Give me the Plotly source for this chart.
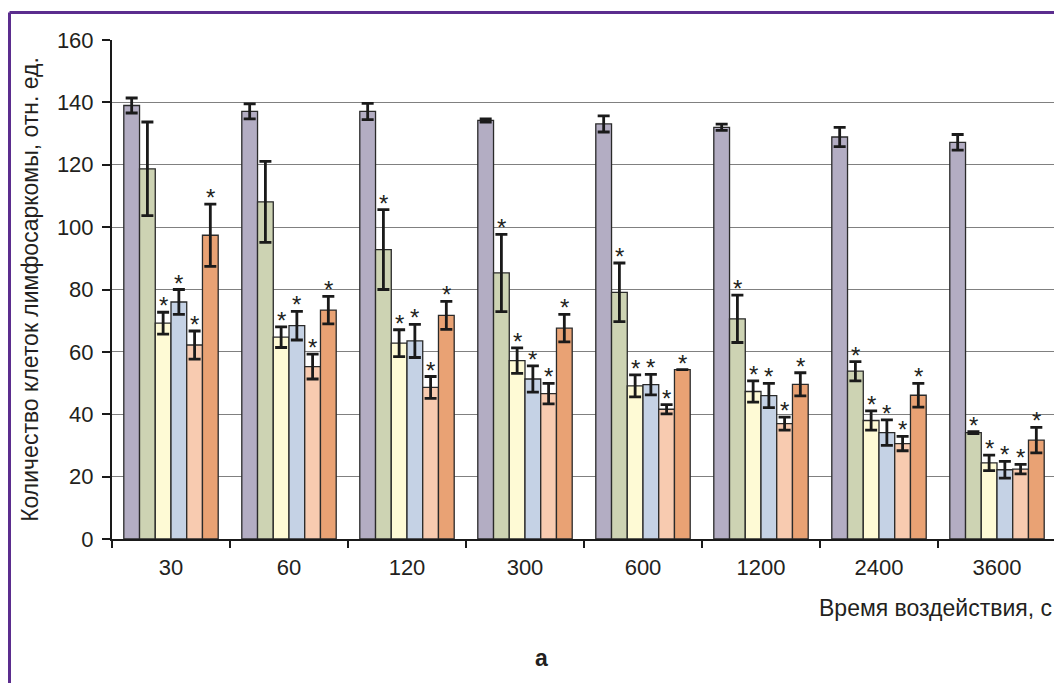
import plotly.graph_objects as go

categories = ["30", "60", "120", "300", "600", "1200", "2400", "3600"]

s1_vals = [139.0, 137.1, 137.1, 134.2, 133.1, 132.0, 128.9, 127.2]
s1_err = [2.4, 2.4, 2.6, 0.5, 2.6, 1.0, 3.1, 2.5]
s2_vals = [118.7, 108.1, 92.8, 85.3, 79.1, 70.6, 53.8, 34.1]
s2_err = [15.0, 13.0, 12.8, 12.4, 9.4, 7.6, 3.1, 0.3]
s3_vals = [69.2, 64.7, 62.8, 57.2, 49.1, 47.3, 38.0, 24.4]
s3_err = [3.5, 3.3, 4.3, 4.1, 3.5, 3.4, 3.1, 2.5]
s4_vals = [76.0, 68.4, 63.5, 51.3, 49.5, 46.0, 34.1, 22.2]
s4_err = [4.0, 4.6, 5.3, 4.2, 3.3, 3.9, 4.1, 2.7]
s5_vals = [62.2, 55.3, 48.6, 46.6, 41.6, 37.0, 30.6, 22.4]
s5_err = [4.5, 4.0, 3.5, 3.3, 1.5, 2.1, 2.3, 1.5]
s6_vals = [97.4, 73.4, 71.7, 67.6, 54.3, 49.6, 46.1, 31.7]
s6_err = [10.0, 4.4, 4.5, 4.4, None, 3.7, 3.8, 4.1]

# significance marks (1 = asterisk)
s1_sig = [0, 0, 0, 0, 0, 0, 0, 0]
s2_sig = [0, 0, 1, 1, 1, 1, 1, 1]
s3_sig = [1, 1, 1, 1, 1, 1, 1, 1]
s4_sig = [1, 1, 1, 1, 1, 1, 1, 1]
s5_sig = [1, 1, 1, 1, 1, 1, 1, 1]
s6_sig = [1, 1, 1, 1, 1, 1, 1, 1]

colors = ["#b3adc3", "#cdd3b3", "#fefad5", "#c5d2e5", "#f8cbb0", "#e9a274"]

series = [
    (s1_vals, s1_err, s1_sig),
    (s2_vals, s2_err, s2_sig),
    (s3_vals, s3_err, s3_sig),
    (s4_vals, s4_err, s4_sig),
    (s5_vals, s5_err, s5_sig),
    (s6_vals, s6_err, s6_sig),
]

FONT = "Liberation Sans, Arial, sans-serif"
TXT = "#231f20"

fig = go.Figure()
for i, (vals, errs, sig) in enumerate(series):
    fig.add_trace(go.Bar(
        x=categories, y=vals,
        marker=dict(color=colors[i], line=dict(color="#2a2a2a", width=1.3)),
        error_y=dict(type="data", array=errs, visible=True,
                     color="#1a1a1a", thickness=2.8, width=6),
        showlegend=False,
    ))

# page body adds an 8px offset; figure is sized to fill the rest of the window
W, H = 1054, 675
ml, mr, mt, mb = 104, 6, 32, 144
plot_w = W - ml - mr
plot_h = H - mt - mb
ncat = len(categories)
bargap = 0.2
bar_px = plot_w / ncat * (1 - bargap) / len(series)

annotations = []
for i, (vals, errs, sig) in enumerate(series):
    for j in range(ncat):
        if sig[j]:
            e = errs[j] if errs[j] is not None else 0
            annotations.append(dict(
                x=j, y=vals[j] + e, xref="x", yref="y",
                text="*", showarrow=False,
                xshift=(i - (len(series) - 1) / 2) * bar_px,
                yanchor="bottom", yshift=-9,
                font=dict(family=FONT, size=24, color=TXT),
            ))

annotations.append(dict(
    x=(1046 - ml) / plot_w, y=-69 / plot_h, xref="paper", yref="paper",
    xanchor="right", yanchor="middle",
    text="Время воздействия, с", showarrow=False,
    font=dict(family=FONT, size=23, color=TXT),
))
annotations.append(dict(
    x=(533 - ml) / plot_w, y=-119 / plot_h, xref="paper", yref="paper",
    xanchor="center", yanchor="middle",
    text="<b>а</b>", showarrow=False,
    font=dict(family=FONT, size=23, color=TXT),
))

top_y = 1 + (mt - 4.5) / plot_h
left_x = (1.5 - ml) / plot_w
shapes = [
    dict(type="line", xref="paper", yref="paper",
         x0=left_x, x1=left_x, y0=top_y, y1=-0.35,
         line=dict(color="#5b2d8e", width=3)),
    dict(type="line", xref="paper", yref="paper",
         x0=left_x, x1=1.05, y0=top_y, y1=top_y,
         line=dict(color="#5b2d8e", width=3)),
]

fig.update_layout(
    width=W, height=H,
    margin=dict(l=ml, r=mr, t=mt, b=mb, autoexpand=False),
    barmode="group", bargap=bargap, bargroupgap=0,
    plot_bgcolor="white", paper_bgcolor="white",
    font=dict(family=FONT, size=22, color=TXT),
    annotations=annotations, shapes=shapes,
    xaxis=dict(
        type="category", range=[-0.5, ncat - 0.5], automargin=False,
        showline=True, linecolor="#1a1a1a", linewidth=2,
        ticks="outside", tickson="boundaries", ticklen=7, tickwidth=2, tickcolor="#1a1a1a",
        showgrid=False, ticklabelstandoff=8, tickangle=0,
        tickfont=dict(family=FONT, size=22, color=TXT),
    ),
    yaxis=dict(
        range=[0, 160], dtick=20, automargin=False,
        showline=True, linecolor="#1a1a1a", linewidth=2,
        ticks="outside", ticklen=8, tickwidth=2, tickcolor="#1a1a1a",
        showgrid=True, gridcolor="#808080", gridwidth=1, zeroline=False,
        ticklabelstandoff=4,
        tickfont=dict(family=FONT, size=22, color=TXT),
        title=dict(text="Количество клеток лимфосаркомы, отн. ед.",
                   font=dict(family=FONT, size=23, color=TXT), standoff=12),
    ),
)

fig.write_html("out.html")
